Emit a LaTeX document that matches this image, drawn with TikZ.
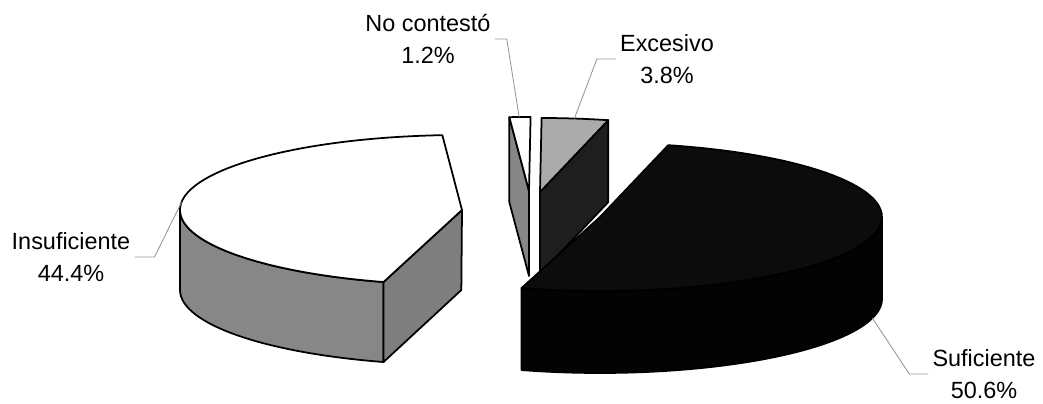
\documentclass[tikz,border=0pt]{standalone}
\usepackage{fontspec}
\setmainfont{Liberation Sans}
\definecolor{sufgray}{HTML}{0C0C0C}
\definecolor{sufwall}{HTML}{030303}
\definecolor{excgray}{HTML}{ABABAB}
\definecolor{excwall}{HTML}{1E1E1E}
\definecolor{insgray}{HTML}{878787}
\definecolor{insside}{HTML}{7E7E7E}
\definecolor{ncgray}{HTML}{868686}
\begin{document}
\begin{tikzpicture}[x=0.03cm, y=0.03cm,
		slice/.style={draw=black, line width=1.5pt, line join=round},
		pielabel/.style={font=\fontsize{20}{27.3}\selectfont, align=center, inner xsep=0.12cm, inner ysep=0pt},
		leaderline/.style={draw=gray!85, line width=0.7pt}
		]
		\useasboundingbox (0,0) rectangle (1043,404);

		\coordinate (ncC) at (529,213);
		\coordinate (ncCb) at (529,128);
		\coordinate (excC) at (540,212);
		\coordinate (excCb) at (540,130);
		\coordinate (insC) at (462,194);
		\coordinate (sufC) at (600,187);

		% No contesto
		\path[slice, fill=ncgray] (ncC) -- ++(94:282 and 74) -- ++(0,-85) -- (ncCb) -- cycle;
		\path[slice, fill=white] (ncC) -- ++(89.68:282 and 74)
			arc[start angle=89.68, end angle=94, x radius=282, y radius=74] -- cycle;

		% Excesivo
		\path[slice, fill=excwall] (excC) -- ++(76:282 and 74) -- ++(0,-82) -- (excCb) -- cycle;
		\path[slice, fill=excgray] (excC) -- ++(76:282 and 74)
			arc[start angle=76, end angle=89.68, x radius=282, y radius=74] -- cycle;

		% Insuficiente
		\path[slice, fill=insgray] (insC) ++(180:282 and 75)
			arc[start angle=180, end angle=253.84, x radius=282, y radius=75] -- ++(0,-80)
			arc[start angle=253.84, end angle=180, x radius=282, y radius=75] -- cycle;
		\path[slice, fill=insside] (insC) -- ++(253.84:282 and 75) -- ++(0,-80) -- ++(77.8,72) -- cycle;
		\path[slice, fill=white] (insC) -- ++(94:282 and 75)
			arc[start angle=94, end angle=253.84, x radius=282, y radius=75] -- cycle;

		% Suficiente
		\path[slice, fill=sufwall] (sufC) ++(0:282 and 74)
			arc[start angle=0, end angle=-106.16, x radius=282, y radius=74] -- ++(0,-82)
			arc[start angle=-106.16, end angle=0, x radius=282, y radius=74] -- cycle;
		\path[slice, fill=sufgray] (sufC) -- ++(-106.16:282 and 74)
			arc[start angle=-106.16, end angle=76, x radius=282, y radius=74] -- cycle;

		% leader ends
		\path (ncC) ++(92:282 and 74) coordinate (ncTip);
		\path (excC) ++(83:282 and 74) coordinate (excTip);
		\path (insC) ++(174:282 and 75) coordinate (insTip);
		\path (sufC) ++(0,-82) ++(-15:282 and 74) coordinate (sufTip);

		\node[pielabel] (lblNC) at (428,365) {No contestó\\1.2\%};
		\node[pielabel] (lblExc) at (667,345) {Excesivo\\3.8\%};
		\node[pielabel] (lblIns) at (71,147) {Insuficiente\\44.4\%};
		\node[pielabel] (lblSuf) at (984,30) {Suficiente\\50.6\%};

		\draw[leaderline] (lblNC.east) -- ++(12,0) -- (ncTip);
		\draw[leaderline] (lblExc.west) -- ++(-19,0) -- (excTip);
		\draw[leaderline] (lblIns.east) -- ++(20,0) -- (insTip);
		\draw[leaderline] (lblSuf.west) -- ++(-19,0) -- (sufTip);
	\end{tikzpicture}
\end{document}
